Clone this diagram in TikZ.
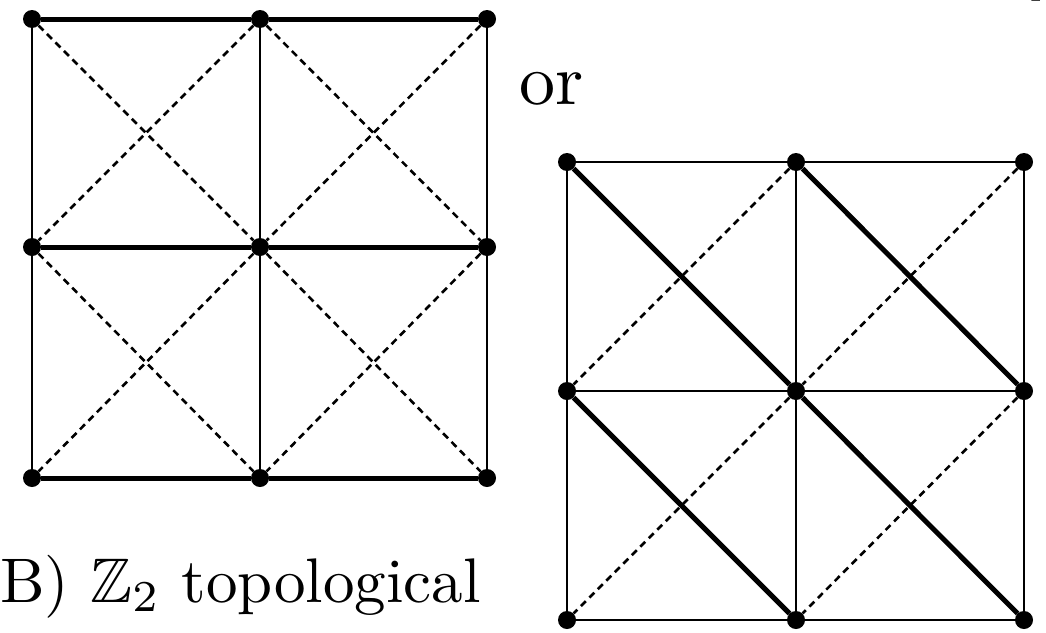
\documentclass[tikz,border=0pt]{standalone}
\usepackage{amssymb}
\usepackage{graphicx}
\begin{document}
\begin{tikzpicture}[x=1pt,y=-1pt,
  dot/.style={circle,fill=black,inner sep=0pt,minimum size=18pt},
  thinedge/.style={line width=1.3pt,black},
  thickedge/.style={line width=5pt,black},
  dashedge/.style={line width=2.6pt,black,dash pattern=on 7pt off 5pt},
  lbl/.style={inner sep=0pt}]
\useasboundingbox (0,0) rectangle (1046,632);
% left grid nodes
\foreach \i/\x in {1/32,2/260,3/487}
  \foreach \j/\y in {1/19,2/247,3/478}
    \node[dot] (L\i\j) at (\x,\y) {};
% right grid nodes
\foreach \i/\x in {1/567,2/796,3/1024}
  \foreach \j/\y in {1/162,2/391,3/620}
    \node[dot] (R\i\j) at (\x,\y) {};
% left grid edges
\foreach \j in {1,2,3} {
  \draw[thickedge] (L1\j) -- (L2\j);
  \draw[thickedge] (L2\j) -- (L3\j);
}
\foreach \i in {1,2,3} {
  \draw[thinedge] (L\i1) -- (L\i2);
  \draw[thinedge] (L\i2) -- (L\i3);
}
\foreach \i/\ii in {1/2,2/3}
  \foreach \j/\jj in {1/2,2/3} {
    \draw[dashedge] (L\i\j) -- (L\ii\jj);
    \draw[dashedge] (L\ii\j) -- (L\i\jj);
  }
% right grid edges
\foreach \j in {1,2,3} {
  \draw[thinedge] (R1\j) -- (R2\j);
  \draw[thinedge] (R2\j) -- (R3\j);
}
\foreach \i in {1,2,3} {
  \draw[thinedge] (R\i1) -- (R\i2);
  \draw[thinedge] (R\i2) -- (R\i3);
}
\draw[thickedge] (R11) -- (R22);
\draw[thickedge] (R22) -- (R33);
\draw[thickedge] (R21) -- (R32);
\draw[thickedge] (R12) -- (R23);
\draw[dashedge] (R21) -- (R12);
\draw[dashedge] (R31) -- (R22);
\draw[dashedge] (R22) -- (R13);
\draw[dashedge] (R32) -- (R23);
% texts
\node[lbl,anchor=base west] (ortext) at (519,104) {\scalebox{7.2}{or}};
\node[lbl,anchor=base west] (label) at (0,602) {\scalebox{6.3}{B) $\mathbb{Z}_2$ topological}};
\node[lbl,anchor=base east] (frag) at (1048,-15) {\scalebox{6.3}{g]}};
\end{tikzpicture}
\end{document}
